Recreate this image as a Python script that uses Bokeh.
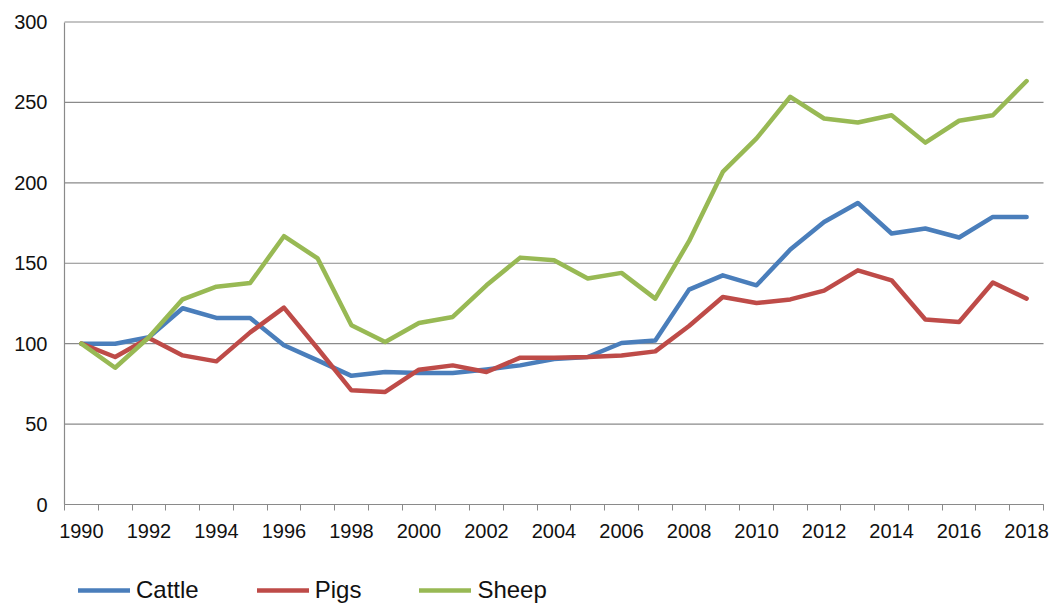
from bokeh.plotting import figure
from bokeh.models import Range1d, FixedTicker, Legend, LegendItem
from bokeh.embed import file_html
from bokeh.resources import INLINE

years = [1990, 1991, 1992, 1993, 1994, 1995, 1996, 1997, 1998, 1999,
         2000, 2001, 2002, 2003, 2004, 2005, 2006, 2007, 2008, 2009,
         2010, 2011, 2012, 2013, 2014, 2015, 2016, 2017, 2018]
cattle = [100, 100, 104, 122, 116, 116, 99, 89.6, 80, 82.4,
          81.7, 81.7, 84, 86.5, 90.5, 91.7, 100.4, 102, 133.6, 142.5,
          136.3, 158.5, 175.7, 187.5, 168.5, 171.6, 166, 178.8, 178.8]
pigs = [100, 91.7, 103.5, 92.7, 89, 107, 122.4, 97, 71, 70,
        83.8, 86.5, 82.4, 91.3, 91.3, 91.7, 92.7, 95.2, 111, 129,
        125.3, 127.5, 133, 145.6, 139.4, 115, 113.5, 138, 128]
sheep = [100, 85, 104, 127.6, 135.4, 137.7, 166.8, 153, 111.4, 101,
         112.8, 116.6, 136.3, 153.5, 151.9, 140.5, 144, 128, 163.7, 206.8,
         227.6, 253.5, 240, 237.5, 242, 225, 238.6, 242, 263.3]
series_names = ["Cattle", "Pigs", "Sheep"]
series_colors = ["#4a7ebb", "#be4b48", "#98b954"]
x_labels = [1990, 1992, 1994, 1996, 1998, 2000, 2002, 2004, 2006, 2008,
            2010, 2012, 2014, 2016, 2018]
y_ticks = [0, 50, 100, 150, 200, 250, 300]

FONT = "Liberation Sans"
AXIS_GRAY = "#8a8a8a"
TEXT = "#111111"

W, H = 1049, 603
# plot area in canvas pixels
LEFT, RIGHT, TOP, BOTTOM = 64, 1043, 21.5, 504
x_lo, x_hi = years[0] - 0.5, years[-1] + 0.5
y_lo, y_hi = y_ticks[0], y_ticks[-1]
ppx = (RIGHT - LEFT) / (x_hi - x_lo)
ppy = (BOTTOM - TOP) / (y_hi - y_lo)

# the frame covers the whole canvas; both axes are pinned inside it so that
# tick labels and the legend below the x axis are never clipped
p = figure(width=W, height=H, output_backend="svg", toolbar_location=None,
           x_range=Range1d(x_lo - LEFT / ppx, x_hi + (W - RIGHT) / ppx),
           y_range=Range1d(y_lo - (H - BOTTOM) / ppy, y_hi + TOP / ppy),
           min_border_left=0, min_border_right=0, min_border_top=0,
           min_border_bottom=0)
p.outline_line_color = None
p.background_fill_color = "white"
p.border_fill_color = "white"
p.xgrid.grid_line_color = None
p.ygrid.grid_line_color = None

# horizontal gridlines limited to the plot area
p.segment(x0=[x_lo] * len(y_ticks), x1=[x_hi] * len(y_ticks), y0=y_ticks, y1=y_ticks,
          line_color=AXIS_GRAY, line_width=1.2)

# x axis
minor = [y - 0.5 for y in years] + [years[-1] + 0.5]
p.xaxis.fixed_location = 0
p.xaxis.bounds = (x_lo, x_hi)
p.xaxis.ticker = FixedTicker(ticks=x_labels, minor_ticks=minor)
p.xaxis.axis_line_color = AXIS_GRAY
p.xaxis.axis_line_width = 1.2
p.xaxis.major_tick_line_color = None
p.xaxis.major_tick_out = 0
p.xaxis.major_tick_in = 0
p.xaxis.minor_tick_line_color = AXIS_GRAY
p.xaxis.minor_tick_out = 6
p.xaxis.minor_tick_in = 0
p.xaxis.major_label_standoff = 13
p.xaxis.major_label_text_font = FONT
p.xaxis.major_label_text_font_size = "20px"
p.xaxis.major_label_text_color = TEXT

# y axis
p.yaxis.fixed_location = x_lo
p.yaxis.bounds = (y_lo, y_hi)
p.yaxis.ticker = FixedTicker(ticks=y_ticks)
p.yaxis.axis_line_color = AXIS_GRAY
p.yaxis.axis_line_width = 1.2
p.yaxis.major_tick_line_color = None
p.yaxis.minor_tick_line_color = None
p.yaxis.major_tick_out = 0
p.yaxis.major_tick_in = 0
p.yaxis.major_label_standoff = 17
p.yaxis.major_label_text_font = FONT
p.yaxis.major_label_text_font_size = "20px"
p.yaxis.major_label_text_color = TEXT

items = []
for name, vals, col in zip(series_names, [cattle, pigs, sheep], series_colors):
    r = p.line(years, vals, line_color=col, line_width=4.5,
               line_join="round", line_cap="round")
    items.append(LegendItem(label=name, renderers=[r]))

legend = Legend(items=items, orientation="horizontal", location=(LEFT + 14, -1),
                border_line_color=None, background_fill_alpha=0,
                padding=0, margin=0, spacing=58, glyph_width=52, glyph_height=22,
                label_standoff=6, label_text_font=FONT,
                label_text_font_size="24px", label_text_color=TEXT)
p.add_layout(legend, "center")

open("out.html", "w").write(file_html(p, INLINE))
